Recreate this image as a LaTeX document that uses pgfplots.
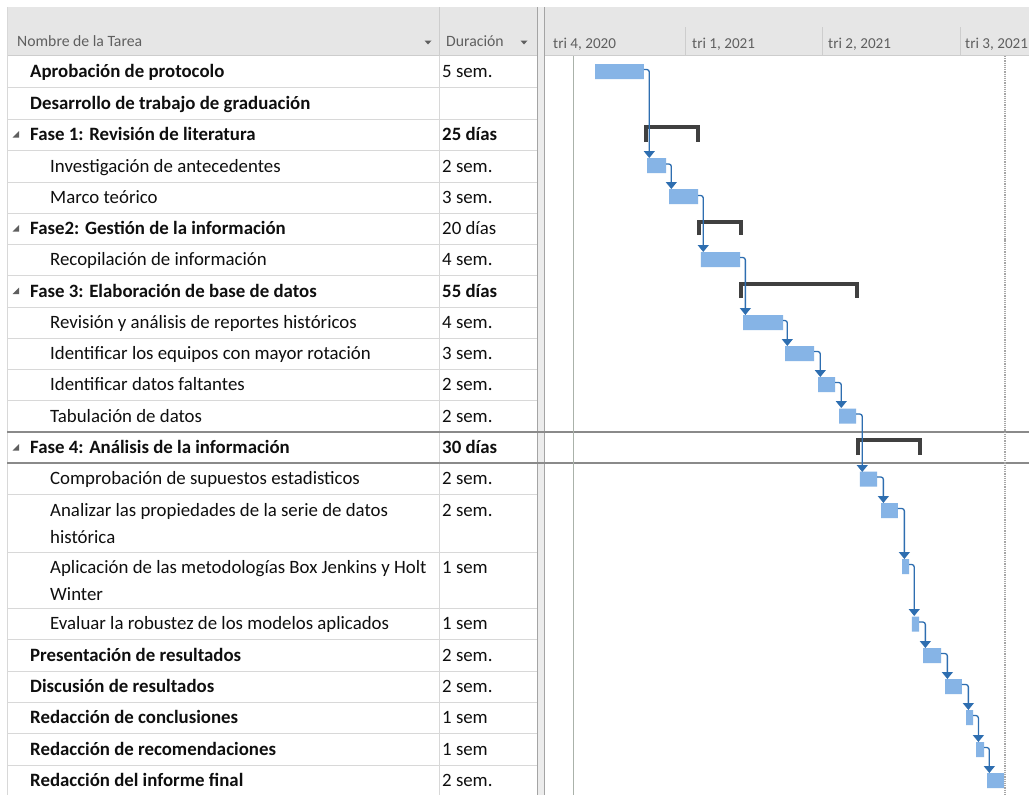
\documentclass[border=0pt]{standalone}
\usepackage{pgfplots}
\pgfplotsset{compat=1.18}
\usepackage{pgfplotstable}
\usepackage{fontspec}
\setmainfont{Carlito}
\usetikzlibrary{arrows.meta}
\definecolor{barblue}{RGB}{134,180,230}
\definecolor{linkblue}{RGB}{46,110,176}
\definecolor{summ}{RGB}{64,64,64}
\definecolor{hdr}{RGB}{230,230,230}
\definecolor{hdrline}{RGB}{205,205,205}
\definecolor{gridc}{RGB}{216,216,216}
\definecolor{selc}{RGB}{138,138,138}
\definecolor{txt}{RGB}{15,15,15}
\definecolor{htxt}{RGB}{95,95,95}
\definecolor{todayc}{RGB}{170,178,170}
\definecolor{splitc}{RGB}{236,236,236}

% tasks: start (days since 1 Oct 2020), duration (days), row position (px from top)
\pgfplotstableread{
s d y
32.9 32.2 71.5
67.1 12.5 165.5
81.6 19.1 196.5
102.6 25.7 259.5
130.3 26.3 322.5
157.9 19.1 353.5
179.6 11.2 384.5
193.4 11.2 416
207.2 11.2 479
221.1 11.1 510.5
234.9 4.6 566.5
241.4 4.7 624
248.7 11.8 655.5
263.2 11.1 686.5
277.0 4.6 717.5
283.6 5.2 749.5
290.8 11.2 780.5
}\tasks

\newcommand\fbody{\fontsize{18.9}{22}\selectfont}
\newcommand\fhead{\fontsize{15.8}{18}\selectfont}
\newcommand\fgh{\fontsize{15.2}{18}\selectfont}
\newcommand\tn[4]{\node[anchor=base west,inner sep=0pt,text=txt,font=\fbody#3] at (#2,#1+6.3) {#4};}
\newcommand\du[3]{\node[anchor=base west,inner sep=0pt,text=txt,font=\fbody#2] at (442,#1+6.3) {#3};}
\newcommand\tri[1]{\fill[htxt] (19,#1-3.5) -- (19,#1+3) -- (12.5,#1+3) -- cycle;}

\pgfplotsset{gantt/.style={at={(545bp,-795bp)},anchor=south west,scale only axis,
  width=484bp,height=739bp,xmin=0,xmax=318.4,ymin=56,ymax=795,y dir=reverse,
  hide axis,clip=true}}

\begin{document}
\begin{tikzpicture}
\begin{scope}[x=1bp,y=-1bp]
\path[use as bounding box] (0,0) rectangle (1029,795);
\fill[white] (0,0) rectangle (1029,795);
% header band
\fill[hdr] (7,7) rectangle (1029,55.5);
\draw[hdrline] (7,55.5) -- (1029,55.5);
\draw[hdrline] (439,7) -- (439,55.5);
\foreach \q in {685,822,960} \draw[hdrline] (\q,27) -- (\q,55.5);
% table grid
\foreach \r in {87,119,150,182,213,244,275,307,338,369,400,494,552,608,639,671,702,733,765}
  \draw[gridc] (7,\r) -- (537,\r);
\draw[gridc] (7,7) -- (7,795);
\draw[gridc] (439,55.5) -- (439,795);
% splitter
\fill[splitc] (537.5,7) rectangle (544.5,795);
\draw[hdrline!80!black] (537.5,7) -- (537.5,795);
\draw[hdrline!80!black] (544.5,7) -- (544.5,795);
% selection lines
\draw[selc,line width=1.3bp] (7,432) -- (1029,432);
\draw[selc,line width=1.3bp] (7,463) -- (1029,463);
% header texts
\node[anchor=base west,inner sep=0pt,text=htxt,font=\fhead] at (17,46) {Nombre de la Tarea};
\node[anchor=base west,inner sep=0pt,text=htxt,font=\fhead] at (446,46) {Duración};
\fill[htxt] (424.5,40.5) -- (431.5,40.5) -- (428,44.5) -- cycle;
\fill[htxt] (520.5,40.5) -- (527.5,40.5) -- (524,44.5) -- cycle;
\foreach \xx/\lab in {553/{tri 4, 2020},692/{tri 1, 2021},828/{tri 2, 2021},965/{tri 3, 2021}}
  \node[anchor=base west,inner sep=0pt,text=htxt,font=\fgh] at (\xx,48) {\lab};
\end{scope}

% bars
\begin{axis}[gantt,xbar stacked,bar width=15]
\addplot[draw=none,fill=none] table[x=s,y=y] \tasks;
\addplot[draw=none,fill=barblue] table[x=d,y=y] \tasks;
\end{axis}

% summary brackets, links and reference lines
\begin{axis}[gantt]
\addplot[todayc,line width=1.2bp] coordinates {(18.7,56) (18.7,795)};
\addplot[gray!70,line width=1.2bp,densely dotted] coordinates {(302.6,56) (302.6,795)};
\addplot[summ,line width=3.6bp] coordinates {(66.4,142) (66.4,127) (100.7,127) (100.7,142)};
\addplot[summ,line width=3.6bp] coordinates {(101.3,235) (101.3,222) (128.9,222) (128.9,235)};
\addplot[summ,line width=3.6bp] coordinates {(128.9,298) (128.9,284) (205.3,284) (205.3,298)};
\addplot[summ,line width=3.6bp] coordinates {(205.9,455) (205.9,440) (246.7,440) (246.7,455)};
\pgfplotsset{lk/.style={linkblue,line width=1.3bp,rounded corners=2.5bp,-{Triangle[width=11bp,length=7bp]}}}
\addplot[lk] coordinates {(65.1,69.5) (68.6,69.5) (68.6,158)};
\addplot[lk] coordinates {(79.6,164) (83.1,164) (83.1,189)};
\addplot[lk] coordinates {(100.7,195.5) (104.1,195.5) (104.1,252)};
\addplot[lk] coordinates {(128.3,257.5) (131.8,257.5) (131.8,315)};
\addplot[lk] coordinates {(156.6,320.5) (159.4,320.5) (159.4,346)};
\addplot[lk] coordinates {(177.0,351.5) (181.1,351.5) (181.1,377)};
\addplot[lk] coordinates {(190.8,382.5) (194.9,382.5) (194.9,408)};
\addplot[lk] coordinates {(204.6,414) (208.7,414) (208.7,472)};
\addplot[lk] coordinates {(218.4,477) (222.6,477) (222.6,503)};
\addplot[lk] coordinates {(232.2,508.5) (236.4,508.5) (236.4,559)};
\addplot[lk] coordinates {(239.5,564.5) (242.9,564.5) (242.9,616)};
\addplot[lk] coordinates {(246.1,622) (250.2,622) (250.2,648)};
\addplot[lk] coordinates {(260.5,653.5) (264.7,653.5) (264.7,679)};
\addplot[lk] coordinates {(274.3,684.5) (278.5,684.5) (278.5,710)};
\addplot[lk] coordinates {(281.6,715.5) (285.1,715.5) (285.1,742)};
\addplot[lk] coordinates {(288.8,747.5) (292.3,747.5) (292.3,773)};
\end{axis}

\begin{scope}[x=1bp,y=-1bp]
% task names
\tn{71.5}{30}{\bfseries}{Aprobación de protocolo}
\tn{103}{30}{\bfseries}{Desarrollo de trabajo de graduación}
\tri{134.5}\tn{134.5}{30}{\bfseries}{Fase 1: Revisión de literatura}
\tn{166}{50}{}{Investigación de antecedentes}
\tn{197.5}{50}{}{Marco teórico}
\tri{228.5}\tn{228.5}{30}{\bfseries}{Fase2: Gestión de la información}
\tn{259.5}{50}{}{Recopilación de información}
\tri{291}\tn{291}{30}{\bfseries}{Fase 3: Elaboración de base de datos}
\tn{322.5}{50}{}{Revisión y análisis de reportes históricos}
\tn{353.5}{50}{}{Identificar los equipos con mayor rotación}
\tn{384.5}{50}{}{Identificar datos faltantes}
\tn{416}{50}{}{Tabulación de datos}
\tri{447.5}\tn{447.5}{30}{\bfseries}{Fase 4: Análisis de la información}
\tn{478.5}{50}{}{Comprobación de supuestos estadisticos}
\tn{510}{50}{}{Analizar las propiedades de la serie de datos}
\tn{537.5}{50}{}{histórica}
\tn{567}{50}{}{Aplicación de las metodologías Box Jenkins y Holt}
\tn{594.5}{50}{}{Winter}
\tn{623.5}{50}{}{Evaluar la robustez de los modelos aplicados}
\tn{655}{30}{\bfseries}{Presentación de resultados}
\tn{686.5}{30}{\bfseries}{Discusión de resultados}
\tn{717.5}{30}{\bfseries}{Redacción de conclusiones}
\tn{749}{30}{\bfseries}{Redacción de recomendaciones}
\tn{780.5}{30}{\bfseries}{Redacción del informe final}
% durations
\du{71.5}{}{5 sem.}
\du{134.5}{\bfseries}{25 días}
\du{166}{}{2 sem.}
\du{197.5}{}{3 sem.}
\du{228.5}{}{20 días}
\du{259.5}{}{4 sem.}
\du{291}{\bfseries}{55 días}
\du{322.5}{}{4 sem.}
\du{353.5}{}{3 sem.}
\du{384.5}{}{2 sem.}
\du{416}{}{2 sem.}
\du{447.5}{\bfseries}{30 días}
\du{478.5}{}{2 sem.}
\du{510}{}{2 sem.}
\du{567}{}{1 sem}
\du{623.5}{}{1 sem}
\du{655}{}{2 sem.}
\du{686.5}{}{2 sem.}
\du{717.5}{}{1 sem}
\du{749}{}{1 sem}
\du{780.5}{}{2 sem.}
\end{scope}
\end{tikzpicture}
\end{document}
